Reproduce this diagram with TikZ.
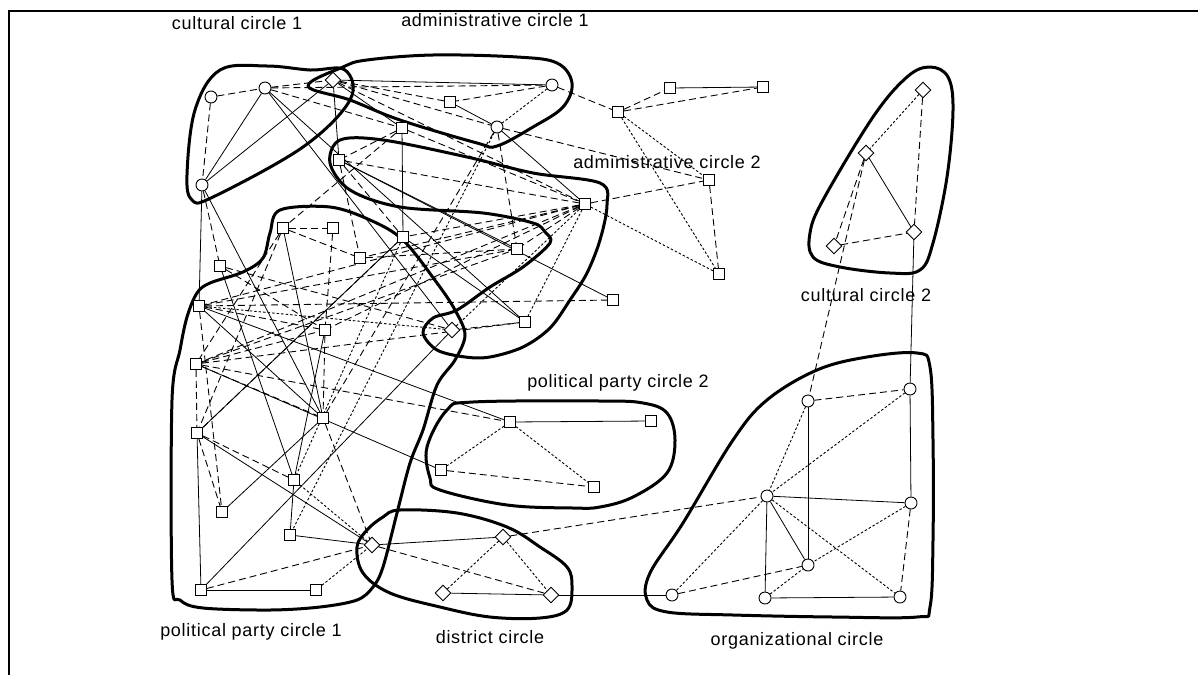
\documentclass[tikz,border=0pt]{standalone}
\usepackage{fontspec}
\setmainfont{Liberation Sans}[LetterSpace=4]
\usetikzlibrary{shapes.geometric}
\pgfdeclarelayer{edges}
\pgfdeclarelayer{blobs}
\pgfsetlayers{edges,blobs,main}
\tikzset{
  circ/.style={circle,draw,fill=white,inner sep=0pt,minimum size=12pt,line width=0.9pt},
  sq/.style={rectangle,draw,fill=white,inner sep=0pt,minimum size=11pt,line width=0.9pt},
  dia/.style={diamond,draw,fill=white,inner sep=0pt,minimum size=16pt,line width=0.9pt},
  sol/.style={line width=0.8pt},
  dsh/.style={line width=0.9pt,dash pattern=on 7pt off 4pt},
  dot/.style={line width=0.9pt,dash pattern=on 2.5pt off 2pt},
  blob/.style={line width=3pt,line join=round},
  lbl/.style={font=\fontsize{18}{20}\selectfont,inner sep=0pt}
}
\begin{document}
\begin{tikzpicture}[x=1pt,y=-1pt]
\useasboundingbox (0,0) rectangle (1198,675);
\draw[line width=2.5pt] (9,675) -- (9,11) -- (1198,11);
% nodes
\node[circ] (c1) at (211,97) {};
\node[circ] (c2) at (265,88) {};
\node[circ] (c3) at (202,185) {};
\node[dia] (d1) at (333,80) {};
\node[circ] (a1) at (552,85) {};
\node[sq] (a2) at (450,102) {};
\node[circ] (a3) at (497,127) {};
\node[sq] (s1) at (402,128) {};
\node[sq] (s2) at (339,160) {};
\node[sq] (s3) at (585,204) {};
\node[sq] (s4) at (403,237) {};
\node[sq] (s5) at (283,228) {};
\node[sq] (p1) at (333,228) {};
\node[sq] (p2) at (360,258) {};
\node[sq] (p3) at (517,249) {};
\node[sq] (p4) at (525,322) {};
\node[sq] (p5) at (613,300) {};
\node[sq] (p6) at (709,180) {};
\node[sq] (s6) at (618,112) {};
\node[sq] (p7) at (670,88) {};
\node[sq] (s7) at (763,87) {};
\node[sq] (s8) at (719,274) {};
\node[dia] (dm) at (452,330) {};
\node[sq] (s9) at (220,266) {};
\node[sq] (s10) at (199,306) {};
\node[sq] (s11) at (196,364) {};
\node[sq] (s12) at (197,433) {};
\node[sq] (s13) at (323,418) {};
\node[sq] (s14) at (294,480) {};
\node[sq] (s15) at (222,512) {};
\node[sq] (p8) at (290,535) {};
\node[sq] (s16) at (201,590) {};
\node[sq] (p9) at (316,590) {};
\node[sq] (p10) at (325,330) {};
\node[dia] (dd1) at (372,545) {};
\node[dia] (dd2) at (503,537) {};
\node[dia] (dd3) at (443,593) {};
\node[dia] (dd4) at (551,595) {};
\node[sq] (q1) at (510,422) {};
\node[sq] (q2) at (441,470) {};
\node[sq] (q3) at (594,487) {};
\node[sq] (q4) at (651,421) {};
\node[circ] (o1) at (808,401) {};
\node[circ] (o2) at (910,389) {};
\node[circ] (o3) at (767,496) {};
\node[circ] (o4) at (911,503) {};
\node[circ] (o5) at (808,565) {};
\node[circ] (o6) at (672,595) {};
\node[circ] (o7) at (765,598) {};
\node[circ] (o8) at (900,597) {};
\node[dia] (k1) at (923,90) {};
\node[dia] (k2) at (866,153) {};
\node[dia] (k3) at (914,232) {};
\node[dia] (k4) at (834,246) {};
% labels
\node[lbl] (l1) at (237,23) {cultural circle 1};
\node[lbl] (l2) at (495,20) {administrative circle 1};
\node[lbl] (l3) at (667,162) {administrative circle 2};
\node[lbl] (l4) at (866,295) {cultural circle 2};
\node[lbl] (l5) at (618,383) {political party circle 2};
\node[lbl] (l6) at (251,632) {political party circle 1};
\node[lbl] (l7) at (490,637) {district circle};
\node[lbl] (l8) at (797,641) {organizational circle};
% edges
\begin{pgfonlayer}{edges}
\foreach \a/\b in {c2/c3,c2/dm,c3/d1,c3/s10,c3/s13,d1/a1,d1/s1,d1/s2,a2/a3,a3/s3,s1/s4,s2/p3,s2/p5,s4/p4,s4/s12,s5/s13,p10/s14,s9/s14,s10/q1,s10/s13,s12/s16,s12/dd1,s13/s15,s14/p8,p8/dd1,s16/p9,s16/dm,q1/q4,dd1/dd2,dd3/dd4,dd4/o6,p7/s7,k2/k3,k3/o2,o1/o5,o2/o4,o3/o4,o3/o7,o3/o5,o7/o8,s11/q2,c2/p4}
  \draw[sol] (\a) -- (\b);
\foreach \a/\b in {c1/c2,c1/c3,c2/d1,c2/s1,c3/s9,d1/a2,d1/a3,d1/s3,a1/a2,a1/s6,a3/p6,a3/p3,a3/s13,s6/p7,s6/s7,p6/s8,s3/p6,s1/s3,s1/s2,s1/s5,s2/s3,s2/s4,s2/p2,s3/s4,s3/p2,s3/s11,s3/s10,s3/p10,s3/p3,s5/p1,s5/p2,s5/s11,s5/s12,p1/p10,p2/p3,s10/p10,s11/p10,s9/p10,p10/s13,s9/dm,s10/s15,s10/p3,s11/p3,s11/s12,s11/s13,s11/p4,s12/s14,s12/s15,s12/s4,s13/dd1,s16/dd1,dm/p4,q2/q3,s11/q1,dd1/dd4,dd2/o3,k1/k3,k2/k4,k4/k3,k2/o1,o1/o2,o4/o8,o6/o5,s10/p5,c2/a1}
  \draw[dsh] (\a) -- (\b);
\foreach \a/\b in {a1/a3,s6/p6,s3/s8,s3/p4,s4/s14,s10/dm,s14/dd1,p9/dd1,dm/s3,q1/q2,q1/q3,dd2/dd3,dd2/dd4,k1/k2,o1/o3,o2/o3,o3/o6,o3/o8,o4/o5,o7/o5,a3/p8,s6/s8}
  \draw[dot] (\a) -- (\b);
\end{pgfonlayer}
% blobs
\begin{pgfonlayer}{blobs}
% cultural circle 1
\draw[blob] plot[smooth cycle,tension=0.6] coordinates {(345,70) (350,100) (303,147) (213,197) (192,200) (187,175) (195,110) (220,70) (267,66) (310,70)};
% administrative circle 1
\draw[blob] plot[smooth cycle,tension=0.6] coordinates {(308,86) (343,67) (367,60) (433,55) (517,57) (557,63) (572,83) (563,107) (533,127) (497,146) (477,143) (400,120) (350,100)};
% administrative circle 2
\draw[blob] plot[smooth cycle,tension=0.55] coordinates {(340,140) (383,140) (467,157) (533,173) (600,183) (607,205) (600,240) (587,273) (570,300) (550,328) (523,347) (490,357) (465,357) (437,350) (423,333) (433,318) (457,310) (490,287) (523,267) (550,243) (545,232) (533,223) (483,213) (400,207) (350,190) (330,163)};
% political party circle 1
\draw[blob] plot[smooth cycle,tension=0.55] coordinates {(280,210) (330,207) (370,220) (403,240) (437,283) (455,310) (465,335) (455,360) (437,385) (423,430) (410,463) (397,513) (383,567) (373,587) (357,600) (320,607) (270,610) (203,608) (180,600) (172,580) (172,400) (180,350) (187,317) (197,293) (210,283) (243,272) (263,258) (270,233)};
% political party circle 2
\draw[blob] plot[smooth cycle,tension=0.6] coordinates {(447,410) (473,402) (600,401) (643,403) (667,413) (675,440) (667,473) (633,497) (600,507) (573,508) (507,505) (440,490) (430,478) (427,447)};
% district circle
\draw[blob] plot[smooth cycle,tension=0.6] coordinates {(400,510) (457,513) (507,527) (540,547) (567,567) (572,587) (567,610) (540,618) (490,617) (440,607) (390,593) (363,573) (357,547) (367,530) (383,517)};
% organizational circle
\draw[blob] plot[smooth cycle,tension=0.6] coordinates {(917,353) (930,367) (933,440) (933,540) (930,607) (917,617) (833,617) (733,615) (667,612) (647,600) (650,573) (683,523) (733,440) (767,400) (817,370) (867,357)};
% cultural circle 2
\draw[blob] plot[smooth cycle,tension=0.6] coordinates {(930,67) (948,77) (953,110) (947,177) (933,243) (920,270) (890,273) (840,267) (813,257) (810,233) (823,200) (873,117) (907,77)};
\end{pgfonlayer}
\end{tikzpicture}
\end{document}
